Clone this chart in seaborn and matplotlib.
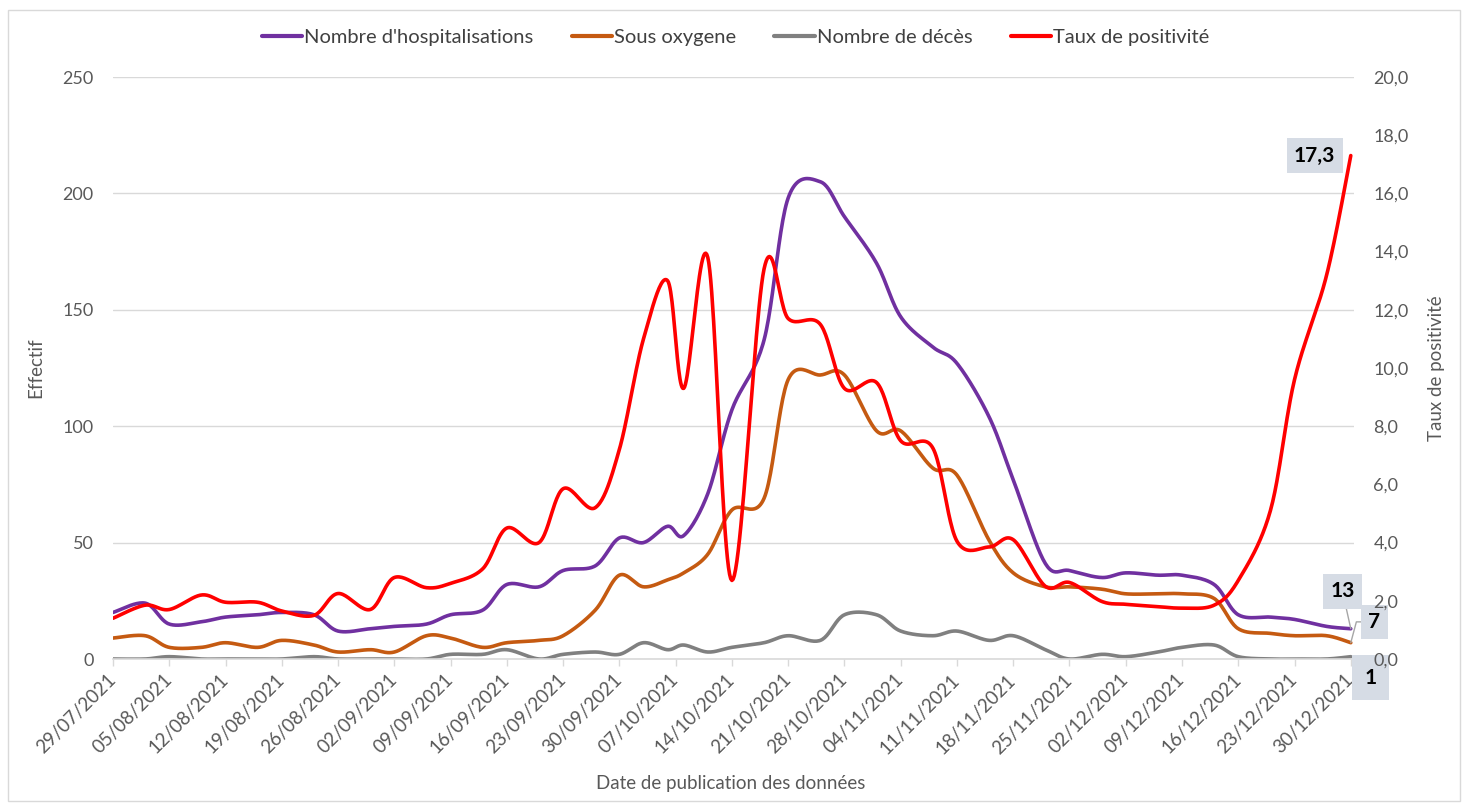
import matplotlib
matplotlib.use("Agg")
import matplotlib.pyplot as plt
import matplotlib.dates as mdates
from matplotlib.lines import Line2D
from matplotlib.patches import Rectangle
import numpy as np
import pandas as pd
import seaborn as sns

# ── data ──────────────────────────────────────────────────────────────────────
dates = [
    "2021-07-29", "2021-08-02", "2021-08-05", "2021-08-09", "2021-08-12", "2021-08-16",
    "2021-08-19", "2021-08-23", "2021-08-26", "2021-08-30", "2021-09-02", "2021-09-06",
    "2021-09-09", "2021-09-13", "2021-09-16", "2021-09-20", "2021-09-23", "2021-09-27",
    "2021-09-30", "2021-10-03", "2021-10-06", "2021-10-08", "2021-10-11", "2021-10-14",
    "2021-10-18", "2021-10-21", "2021-10-25", "2021-10-28", "2021-11-01", "2021-11-04",
    "2021-11-08", "2021-11-11", "2021-11-15", "2021-11-18", "2021-11-22", "2021-11-25",
    "2021-11-29", "2021-12-02", "2021-12-06", "2021-12-09", "2021-12-13", "2021-12-16",
    "2021-12-20", "2021-12-23", "2021-12-27", "2021-12-30",
]
hospit = [20, 24, 15, 16, 18, 19, 20, 19, 12, 13, 14, 15, 19, 21, 32, 31, 38, 40,
          52, 50, 57, 53, 71, 107, 137, 198, 205, 190, 170, 147, 134, 127, 104, 77,
          41, 38, 35, 37, 36, 36, 32, 19, 18, 17, 14, 13]
oxygene = [9, 10, 5, 5, 7, 5, 8, 6, 3, 4, 3, 10, 9, 5, 7, 8, 10, 21,
           36, 31, 34, 37, 45, 64, 69, 120, 122, 122, 98, 98, 82, 79, 51, 37,
           31, 31, 30, 28, 28, 28, 26, 13, 11, 10, 10, 7]
deces = [0, 0, 1, 0, 0, 0, 0, 1, 0, 0, 0, 0, 2, 2, 4, 0, 2, 3,
         2, 7, 4, 6, 3, 5, 7, 10, 8, 19, 19, 12, 10, 12, 8, 10,
         4, 0, 2, 1, 3, 5, 6, 1, 0, 0, 0, 1]
positivite = [1.4, 1.85, 1.7, 2.2, 1.95, 1.95, 1.65, 1.5, 2.25, 1.7, 2.8, 2.45,
              2.6, 3.1, 4.5, 4.0, 5.85, 5.2, 7.2, 11.0, 13.0, 9.3, 13.8, 2.7,
              13.4, 11.7, 11.5, 9.3, 9.5, 7.5, 7.25, 4.05, 3.85, 4.1, 2.5, 2.63,
              1.98, 1.88, 1.8, 1.75, 1.85, 2.7, 5.1, 9.6, 13.2, 17.3]

labels = ["Nombre d'hospitalisations", "Sous oxygene", "Nombre de décès", "Taux de positivité"]
colors = ["#7030A0", "#C55A11", "#808080", "#FF0000"]

sns.set_theme(style="white")
plt.rcParams["font.family"] = ["Lato", "DejaVu Sans"]
TXT = "#595959"
FS = 13.5

df = pd.DataFrame({"date": pd.to_datetime(dates), "hospit": hospit, "oxygene": oxygene,
                   "deces": deces, "positivite": positivite})
xnum = mdates.date2num(df["date"])


def smooth(x, y, n=24):
    # Excel-like smoothed line: cubic Bezier through points, Catmull-Rom controls
    pts = np.column_stack([x, y]).astype(float)
    P = np.vstack([pts[0], pts, pts[-1]])
    out = []
    t = np.linspace(0, 1, n, endpoint=False)[:, None]
    for i in range(1, len(P) - 2):
        p0, p1, p2, p3 = P[i - 1], P[i], P[i + 1], P[i + 2]
        c1 = p1 + (p2 - p0) / 6
        c2 = p2 - (p3 - p1) / 6
        out.append((1 - t) ** 3 * p1 + 3 * (1 - t) ** 2 * t * c1 + 3 * (1 - t) * t ** 2 * c2 + t ** 3 * p2)
    out.append(pts[-1:])
    return np.vstack(out)


fig = plt.figure(figsize=(14.68, 8.05), dpi=100)
ax = fig.add_axes([113 / 1468, 1 - 659 / 805, 1241 / 1468, 582 / 805])
ax2 = ax.twinx()

for col, c in zip(["hospit", "oxygene", "deces"], colors[:3]):
    s = smooth(xnum, df[col].values)
    sns.lineplot(x=s[:, 0], y=s[:, 1], ax=ax, color=c, linewidth=2.6, sort=False, estimator=None)
s = smooth(xnum, df["positivite"].values)
sns.lineplot(x=s[:, 0], y=s[:, 1], ax=ax2, color=colors[3], linewidth=2.6, sort=False, estimator=None)

x0, x1 = xnum[0], xnum[-1]
ax.set_xlim(x0, x1 + 0.4)
ax.set_ylim(0, 250)
ax2.set_ylim(0, 20)

ax.set_yticks(np.arange(0, 251, 50))
ax.set_yticklabels([str(v) for v in range(0, 251, 50)])
ax2.set_yticks(np.arange(0, 21, 2))
ax2.set_yticklabels([f"{v:.1f}".replace(".", ",") for v in np.arange(0, 21, 2)])

week_ticks = np.arange(x0, x1 + 0.5, 7)
ax.set_xticks(week_ticks)
ax.set_xticklabels([mdates.num2date(v).strftime("%d/%m/%Y") for v in week_ticks],
                   rotation=45, ha="right", va="center", rotation_mode="anchor")

ax.grid(axis="y", color="#D9D9D9", linewidth=1)
ax.grid(axis="x", visible=False)
ax2.grid(False)
for a in (ax, ax2):
    for sp in a.spines.values():
        sp.set_visible(False)
ax.spines["bottom"].set_visible(True)
ax.spines["bottom"].set_color("#D9D9D9")
ax.spines["bottom"].set_linewidth(1.2)

ax.tick_params(axis="x", colors=TXT, labelsize=FS, length=5, width=1, direction="out",
               pad=8, color="#D9D9D9", bottom=True)
ax.tick_params(axis="y", colors=TXT, labelsize=13, length=0, pad=14)
ax2.tick_params(axis="y", colors=TXT, labelsize=13, length=0, pad=14)

ax.set_ylabel("Effectif", color=TXT, fontsize=FS)
ax.yaxis.set_label_coords(-0.055, 0.5)
ax2.set_ylabel("Taux de positivité", color=TXT, fontsize=FS)
ax2.yaxis.set_label_coords(1.06, 0.5)
ax.set_xlabel("Date de publication des données", color=TXT, fontsize=FS)
ax.xaxis.set_label_coords(0.4975, -0.2)

# data labels at the last point
box = dict(boxstyle="square,pad=0.35", facecolor="#D6DCE5", edgecolor="none")
lead = dict(arrowstyle="-", color="#A6A6A6", lw=1, shrinkA=0, shrinkB=0)
ax2.annotate(f"{positivite[-1]:.1f}".replace(".", ","), (x1, positivite[-1]),
             xytext=(-26, 0), textcoords="offset points", ha="center", va="center",
             fontsize=15, fontweight="bold", color="black", bbox=box)
ax.annotate(str(hospit[-1]), (x1, hospit[-1]), xytext=(-6, 27), textcoords="offset points",
            ha="center", va="center", fontsize=15, fontweight="bold", color="black",
            bbox=box, arrowprops=lead)
ax.annotate(str(oxygene[-1]), (x1, oxygene[-1]), xytext=(17, 15), textcoords="offset points",
            ha="center", va="center", fontsize=15, fontweight="bold", color="black",
            bbox=box, arrowprops=dict(lead, connectionstyle="angle,angleA=0,angleB=75,rad=0"))
ax.annotate(str(deces[-1]), (x1, deces[-1]), xytext=(14, -15), textcoords="offset points",
            ha="center", va="center", fontsize=15, fontweight="bold", color="black",
            bbox=dict(box, boxstyle="square,pad=0.6"))

handles = [Line2D([0], [0], color=c, lw=3) for c in colors]
fig.legend(handles, labels, loc="center", bbox_to_anchor=(0.501, 0.954), ncol=4, frameon=False,
           fontsize=14.5, handlelength=2.0, handletextpad=0.1, columnspacing=1.9, labelcolor="#404040")

fig.patches.append(Rectangle((8 / 1468, 4 / 805), 1452 / 1468, 791 / 805, transform=fig.transFigure,
                             fill=False, edgecolor="#D9D9D9", linewidth=1))

fig.savefig("out.png", dpi=100)
